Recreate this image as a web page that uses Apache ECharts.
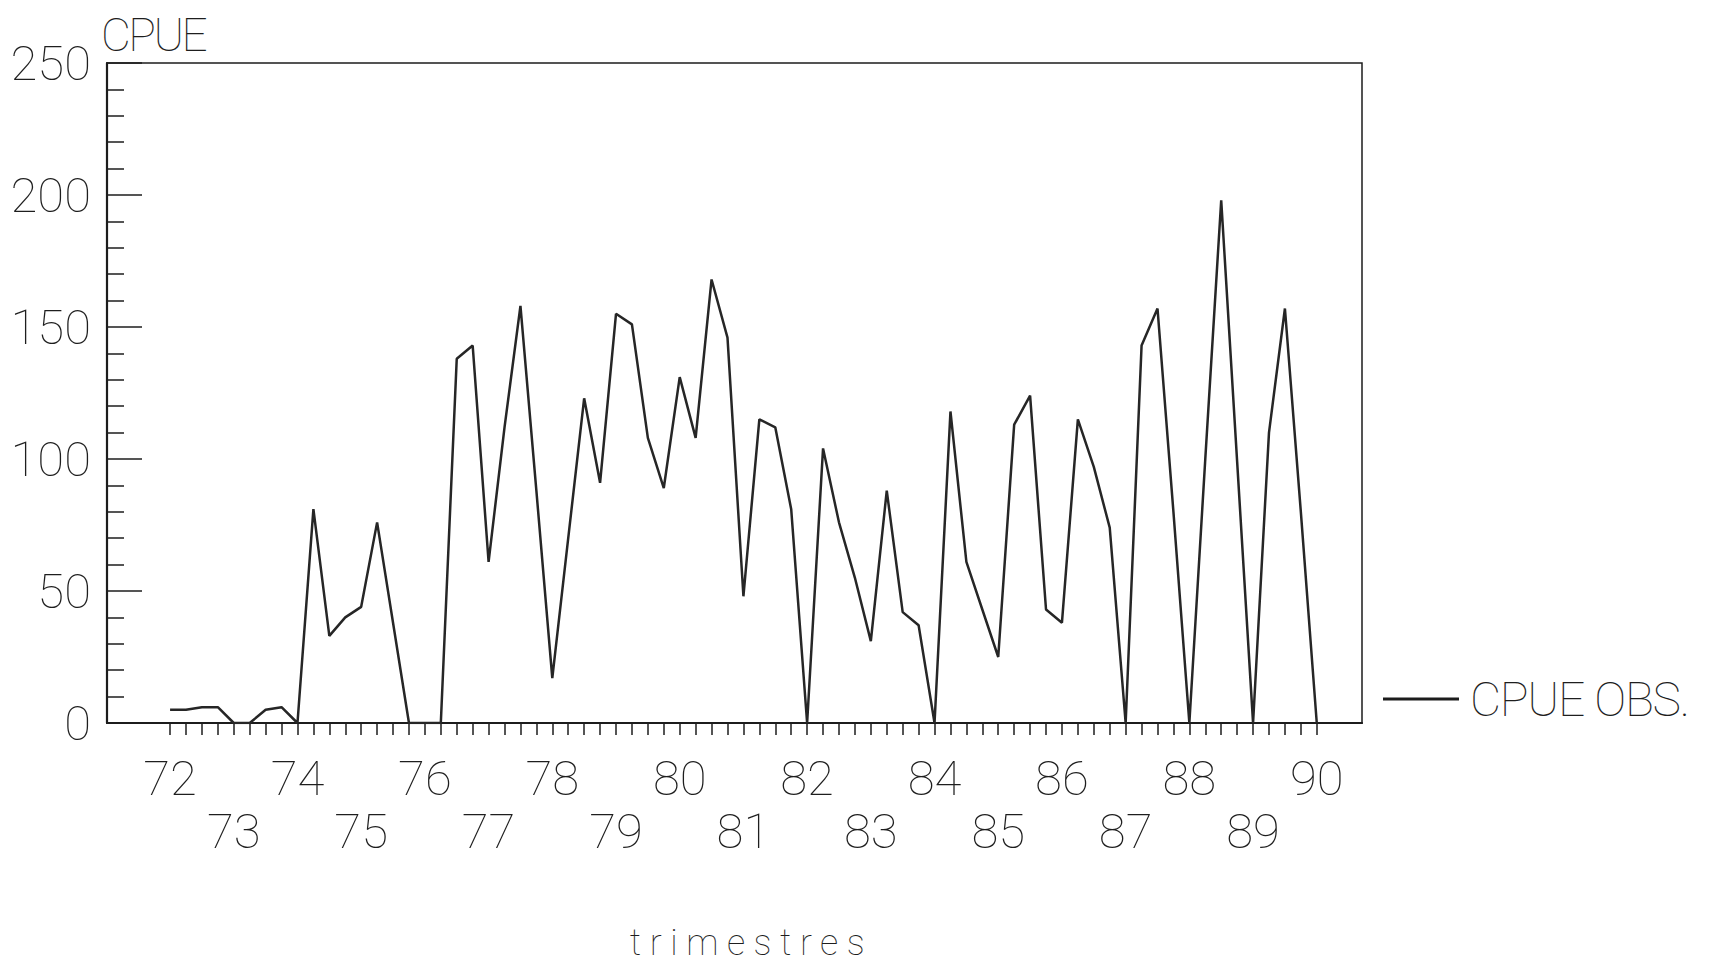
<!DOCTYPE html>
<html>
<head>
<meta charset="utf-8">
<title>CPUE</title>
<script src="https://cdn.jsdelivr.net/npm/echarts@6/dist/echarts.min.js"></script>
<style>
  html, body { margin: 0; padding: 0; background: #fff; }
  #chart { width: 1709px; height: 966px; }
  #chart text { opacity: 0.99; }
</style>
</head>
<body>
<div id="chart"></div>
<script>
// Quarterly CPUE observations, first quarter of 1972 to first quarter of 1990
const startYear = 72;
const endYear = 90;
const cpueObs = [
  5, 5, 6, 6,          // 72
  0, 0, 5, 6,          // 73
  0, 81, 33, 40,       // 74
  44, 76, 38, 0,       // 75
  0, 0, 138, 143,      // 76
  61, 112, 158, 88,    // 77
  17, 70, 123, 91,     // 78
  155, 151, 108, 89,   // 79
  131, 108, 168, 146,  // 80
  48, 115, 112, 81,    // 81
  0, 104, 76, 55,      // 82
  31, 88, 42, 37,      // 83
  0, 118, 61, 43,      // 84
  25, 113, 124, 43,    // 85
  38, 115, 97, 74,     // 86
  0, 143, 157, 80,     // 87
  0, 100, 198, 99,     // 88
  0, 110, 157, 80,     // 89
  0                    // 90
];
const yTicks = [0, 50, 100, 150, 200, 250];
const yearLabels = [];
for (let y = startYear; y <= endYear; y++) yearLabels.push(y);

// quarter positions for the tick marks along the time axis
const quarterTicks = [];
for (let y = startYear; y < endYear; y++) {
  for (let k = 0; k < 4; k++) quarterTicks.push(y + k / 4);
}
quarterTicks.push(endYear);

const seriesData = cpueObs.map((v, i) => [startYear + i / 4, v]);

const ink = '#1c1c1c';
const font = 'Roboto, "Open Sans", sans-serif';

// letter spacing for a few plotter-style captions (SVG text attribute)
const captionSpacing = { 'trimestres': 8.5, 'CPUE': -2.5, 'CPUE OBS.': -1.3 };

const chart = echarts.init(document.getElementById('chart'), null, { renderer: 'svg' });
chart.setOption({
  backgroundColor: '#ffffff',
  animation: false,
  grid: {
    left: 107, right: 347, top: 63, bottom: 241,
    show: true, borderColor: ink, borderWidth: 1.5, backgroundColor: 'transparent'
  },
  legend: {
    left: 1378, top: 670,
    icon: 'rect', itemWidth: 76, itemHeight: 3,
    data: ['CPUE OBS.'],
    textStyle: { fontFamily: font, fontWeight: 100, fontSize: 48, color: ink, padding: [0, 0, 0, 6] },
    itemStyle: { color: ink }
  },
  xAxis: {
    type: 'value',
    min: 71.01, max: 90.71,
    name: 'trimestres',
    nameLocation: 'middle',
    nameGap: 202,
    nameTextStyle: { fontFamily: font, fontWeight: 100, fontSize: 36, color: ink, padding: [0, 0, 0, 34] },
    axisLine: { show: true, lineStyle: { color: ink, width: 2.2 } },
    axisTick: { show: true, customValues: quarterTicks, length: 12, lineStyle: { color: ink, width: 1.5 } },
    axisLabel: {
      customValues: yearLabels,
      margin: 29,
      fontFamily: font, fontWeight: 100, fontSize: 49, lineHeight: 53, color: ink,
      formatter: v => ((Math.round(v) % 2) ? '\n' : '') + Math.round(v)
    },
    splitLine: { show: false }
  },
  yAxis: {
    type: 'value',
    min: 0, max: 250, interval: 50,
    name: 'CPUE',
    nameLocation: 'end',
    nameGap: 5,
    nameTextStyle: { fontFamily: font, fontWeight: 100, fontSize: 46, color: ink, align: 'left', verticalAlign: 'bottom', padding: [0, 0, 0, -6] },
    axisLine: { show: true, lineStyle: { color: ink, width: 2.2 } },
    axisTick: { show: true, inside: true, length: 35, lineStyle: { color: ink, width: 1.5 } },
    minorTick: { show: true, splitNumber: 5, length: 17, lineStyle: { color: ink, width: 1.5 } },
    axisLabel: {
      customValues: yTicks,
      margin: 16,
      fontFamily: font, fontWeight: 100, fontSize: 49, color: ink
    },
    splitLine: { show: false }
  },
  series: [{
    name: 'CPUE OBS.',
    type: 'line',
    data: seriesData,
    symbol: 'none',
    lineStyle: { color: '#262626', width: 2.5 },
    itemStyle: { color: ink }
  }]
});

function applyCaptionSpacing() {
  document.querySelectorAll('#chart text').forEach(t => {
    const s = captionSpacing[t.textContent.trim()];
    if (s !== undefined) t.setAttribute('letter-spacing', s);
  });
}
chart.on('finished', applyCaptionSpacing);
applyCaptionSpacing();
setTimeout(applyCaptionSpacing, 0);
setTimeout(applyCaptionSpacing, 200);
</script>
</body>
</html>
